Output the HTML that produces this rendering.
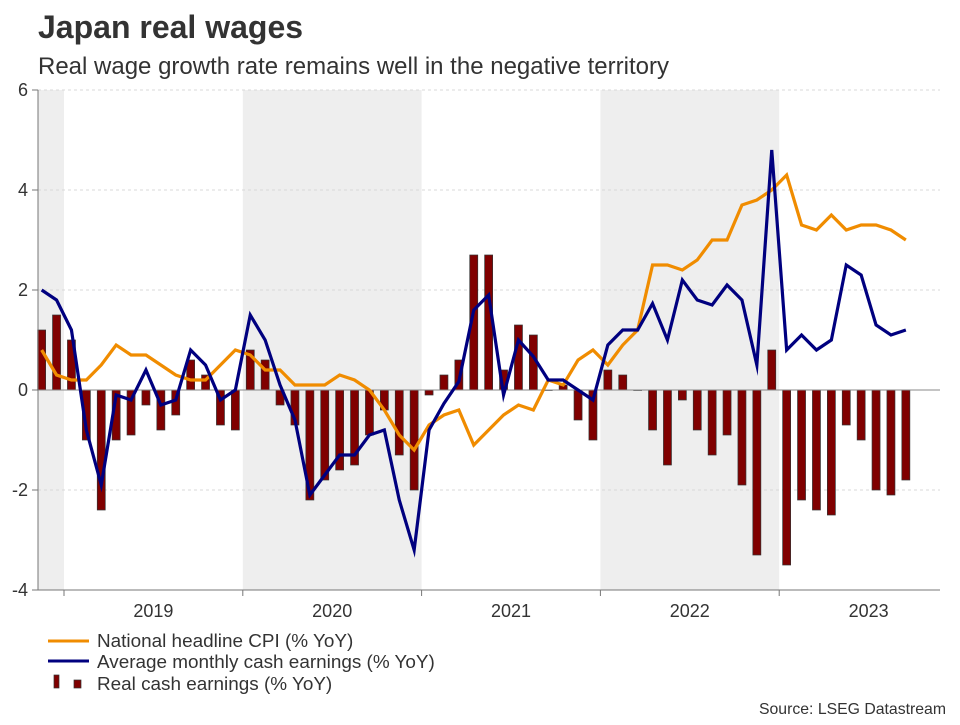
<!DOCTYPE html>
<html><head><meta charset="utf-8"><style>
body{margin:0;background:#fff;font-family:"Liberation Sans",sans-serif;}
svg text{font-family:"Liberation Sans",sans-serif;}
</style></head><body>
<svg width="960" height="720" viewBox="0 0 960 720">
<text x="38" y="38" font-size="32" font-weight="bold" fill="#333">Japan real wages</text>
<text x="38" y="74" font-size="24" fill="#333">Real wage growth rate remains well in the negative territory</text>
<g id="plot"></g>
<g>
<line x1="48" y1="641" x2="89" y2="641" stroke="#f08c00" stroke-width="3"/>
<text x="97" y="647" font-size="18.9" fill="#333">National headline CPI (% YoY)</text>
<line x1="48" y1="661" x2="89" y2="661" stroke="#00007f" stroke-width="3"/>
<text x="97" y="668" font-size="18.9" fill="#333">Average monthly cash earnings (% YoY)</text>
<rect x="54" y="675" width="5" height="13" fill="#800000" stroke="#333" stroke-width="0.7"/>
<rect x="74" y="680" width="7" height="8" fill="#800000" stroke="#333" stroke-width="0.7"/>
<text x="97" y="690" font-size="18.9" fill="#333">Real cash earnings (% YoY)</text>
</g>
<text x="946" y="714" font-size="15.8" fill="#333" text-anchor="end">Source: LSEG Datastream</text>
</svg>
<script>
// months Nov 2018 .. Sep 2023
const startLabel = "2018-11";
const years = ["2019","2020","2021","2022","2023"];
const yTicks = [6,4,2,0,-2,-4];
const cpi = [0.8,0.3,0.2,0.2,0.5,0.9,0.7,0.7,0.5,0.3,0.2,0.2,0.5,0.8,
 0.7,0.4,0.4,0.1,0.1,0.1,0.3,0.2,0.0,-0.4,-0.9,-1.2,
 -0.7,-0.5,-0.4,-1.1,-0.8,-0.5,-0.3,-0.4,0.2,0.1,0.6,0.8,
 0.5,0.9,1.2,2.5,2.5,2.4,2.6,3.0,3.0,3.7,3.8,4.0,
 4.3,3.3,3.2,3.5,3.2,3.3,3.3,3.2,3.0];
const earnings = [2.0,1.8,1.2,-0.8,-1.9,-0.1,-0.2,0.4,-0.3,-0.2,0.8,0.5,-0.2,0.0,
 1.5,1.0,0.1,-0.6,-2.1,-1.7,-1.3,-1.3,-0.9,-0.8,-2.2,-3.2,
 -0.8,-0.27,0.17,1.6,1.9,-0.1,1.0,0.67,0.2,0.2,0.0,-0.2,
 0.9,1.2,1.2,1.73,1.0,2.2,1.8,1.7,2.1,1.8,0.5,4.8,
 0.8,1.1,0.8,1.0,2.5,2.3,1.3,1.1,1.2];
const real = [1.2,1.5,1.0,-1.0,-2.4,-1.0,-0.9,-0.3,-0.8,-0.5,0.6,0.3,-0.7,-0.8,
 0.8,0.6,-0.3,-0.7,-2.2,-1.8,-1.6,-1.5,-0.9,-0.4,-1.3,-2.0,
 -0.1,0.3,0.6,2.7,2.7,0.4,1.3,1.1,0.0,0.1,-0.6,-1.0,
 0.4,0.3,0.0,-0.8,-1.5,-0.2,-0.8,-1.3,-0.9,-1.9,-3.3,0.8,
 -3.5,-2.2,-2.4,-2.5,-0.7,-1.0,-2.0,-2.1,-1.8];

const NS="http://www.w3.org/2000/svg";
const g=document.getElementById('plot');
const L=38,R=940,T=90,B=590,yMin=-4,yMax=6;
const yearW=178.8, jan2019=64, monthW=yearW/12;
function x(i){return jan2019+(i-2+0.5)*monthW;} // index 0 = Nov 2018
function y(v){return T+(yMax-v)/(yMax-yMin)*(B-T);}
function mk(tag,attrs){const e=document.createElementNS(NS,tag);for(const k in attrs)e.setAttribute(k,attrs[k]);g.appendChild(e);return e;}
[[L,jan2019],[jan2019+yearW,jan2019+2*yearW],[jan2019+3*yearW,jan2019+4*yearW]].forEach(b=>{
 const r=mk('rect',{x:b[0],y:T,width:b[1]-b[0],height:B-T,fill:'#eeeeee'});
 
 
});
yTicks.forEach(t=>{
 if(t!==0&&t!==yMin){const l=mk('line',{x1:L,x2:R,y1:y(t),y2:y(t),stroke:'#d8d8d8','stroke-dasharray':'3,3','stroke-width':1});
 
 }
 const tk=mk('line',{x1:L-6,x2:L,y1:y(t),y2:y(t),stroke:'#777'});
 
 
 const tx=mk('text',{x:L-10,y:y(t)+6,'font-size':18,fill:'#333','text-anchor':'end'});
 tx.textContent=t;
 
 
});
real.forEach((v,i)=>{
 const bw=8;const y0=y(0),y1=y(v);
 const r=mk('rect',{x:x(i)-bw/2,y:Math.min(y0,y1),width:bw,height:Math.max(Math.abs(y1-y0),0.5),fill:'#800000',stroke:'#333','stroke-width':0.7});
 
 
});
const z=mk('line',{x1:L,x2:R,y1:y(0),y2:y(0),stroke:'#888','stroke-width':1});


function line(arr,col,name){
 const p=mk('polyline',{points:arr.map((v,i)=>x(i)+','+y(v)).join(' '),fill:'none',stroke:col,'stroke-width':3.2,'stroke-linejoin':'miter','stroke-miterlimit':10});
 
 
}
line(cpi,'#f08c00','cpi-line');
line(earnings,'#00007f','earnings-line');
const ya=mk('line',{x1:L,x2:L,y1:T,y2:B,stroke:'#777'});


const xa=mk('line',{x1:L,x2:R,y1:B,y2:B,stroke:'#777'});


years.forEach((yr,k)=>{
 const bx=jan2019+k*yearW;
 const tk=mk('line',{x1:bx,x2:bx,y1:B,y2:B+6,stroke:'#777'});
 
 
 const t=mk('text',{x:bx+yearW/2,y:B+27,'font-size':18,fill:'#333','text-anchor':'middle'});
 t.textContent=yr;
 
 
});
</script>
</body></html>
